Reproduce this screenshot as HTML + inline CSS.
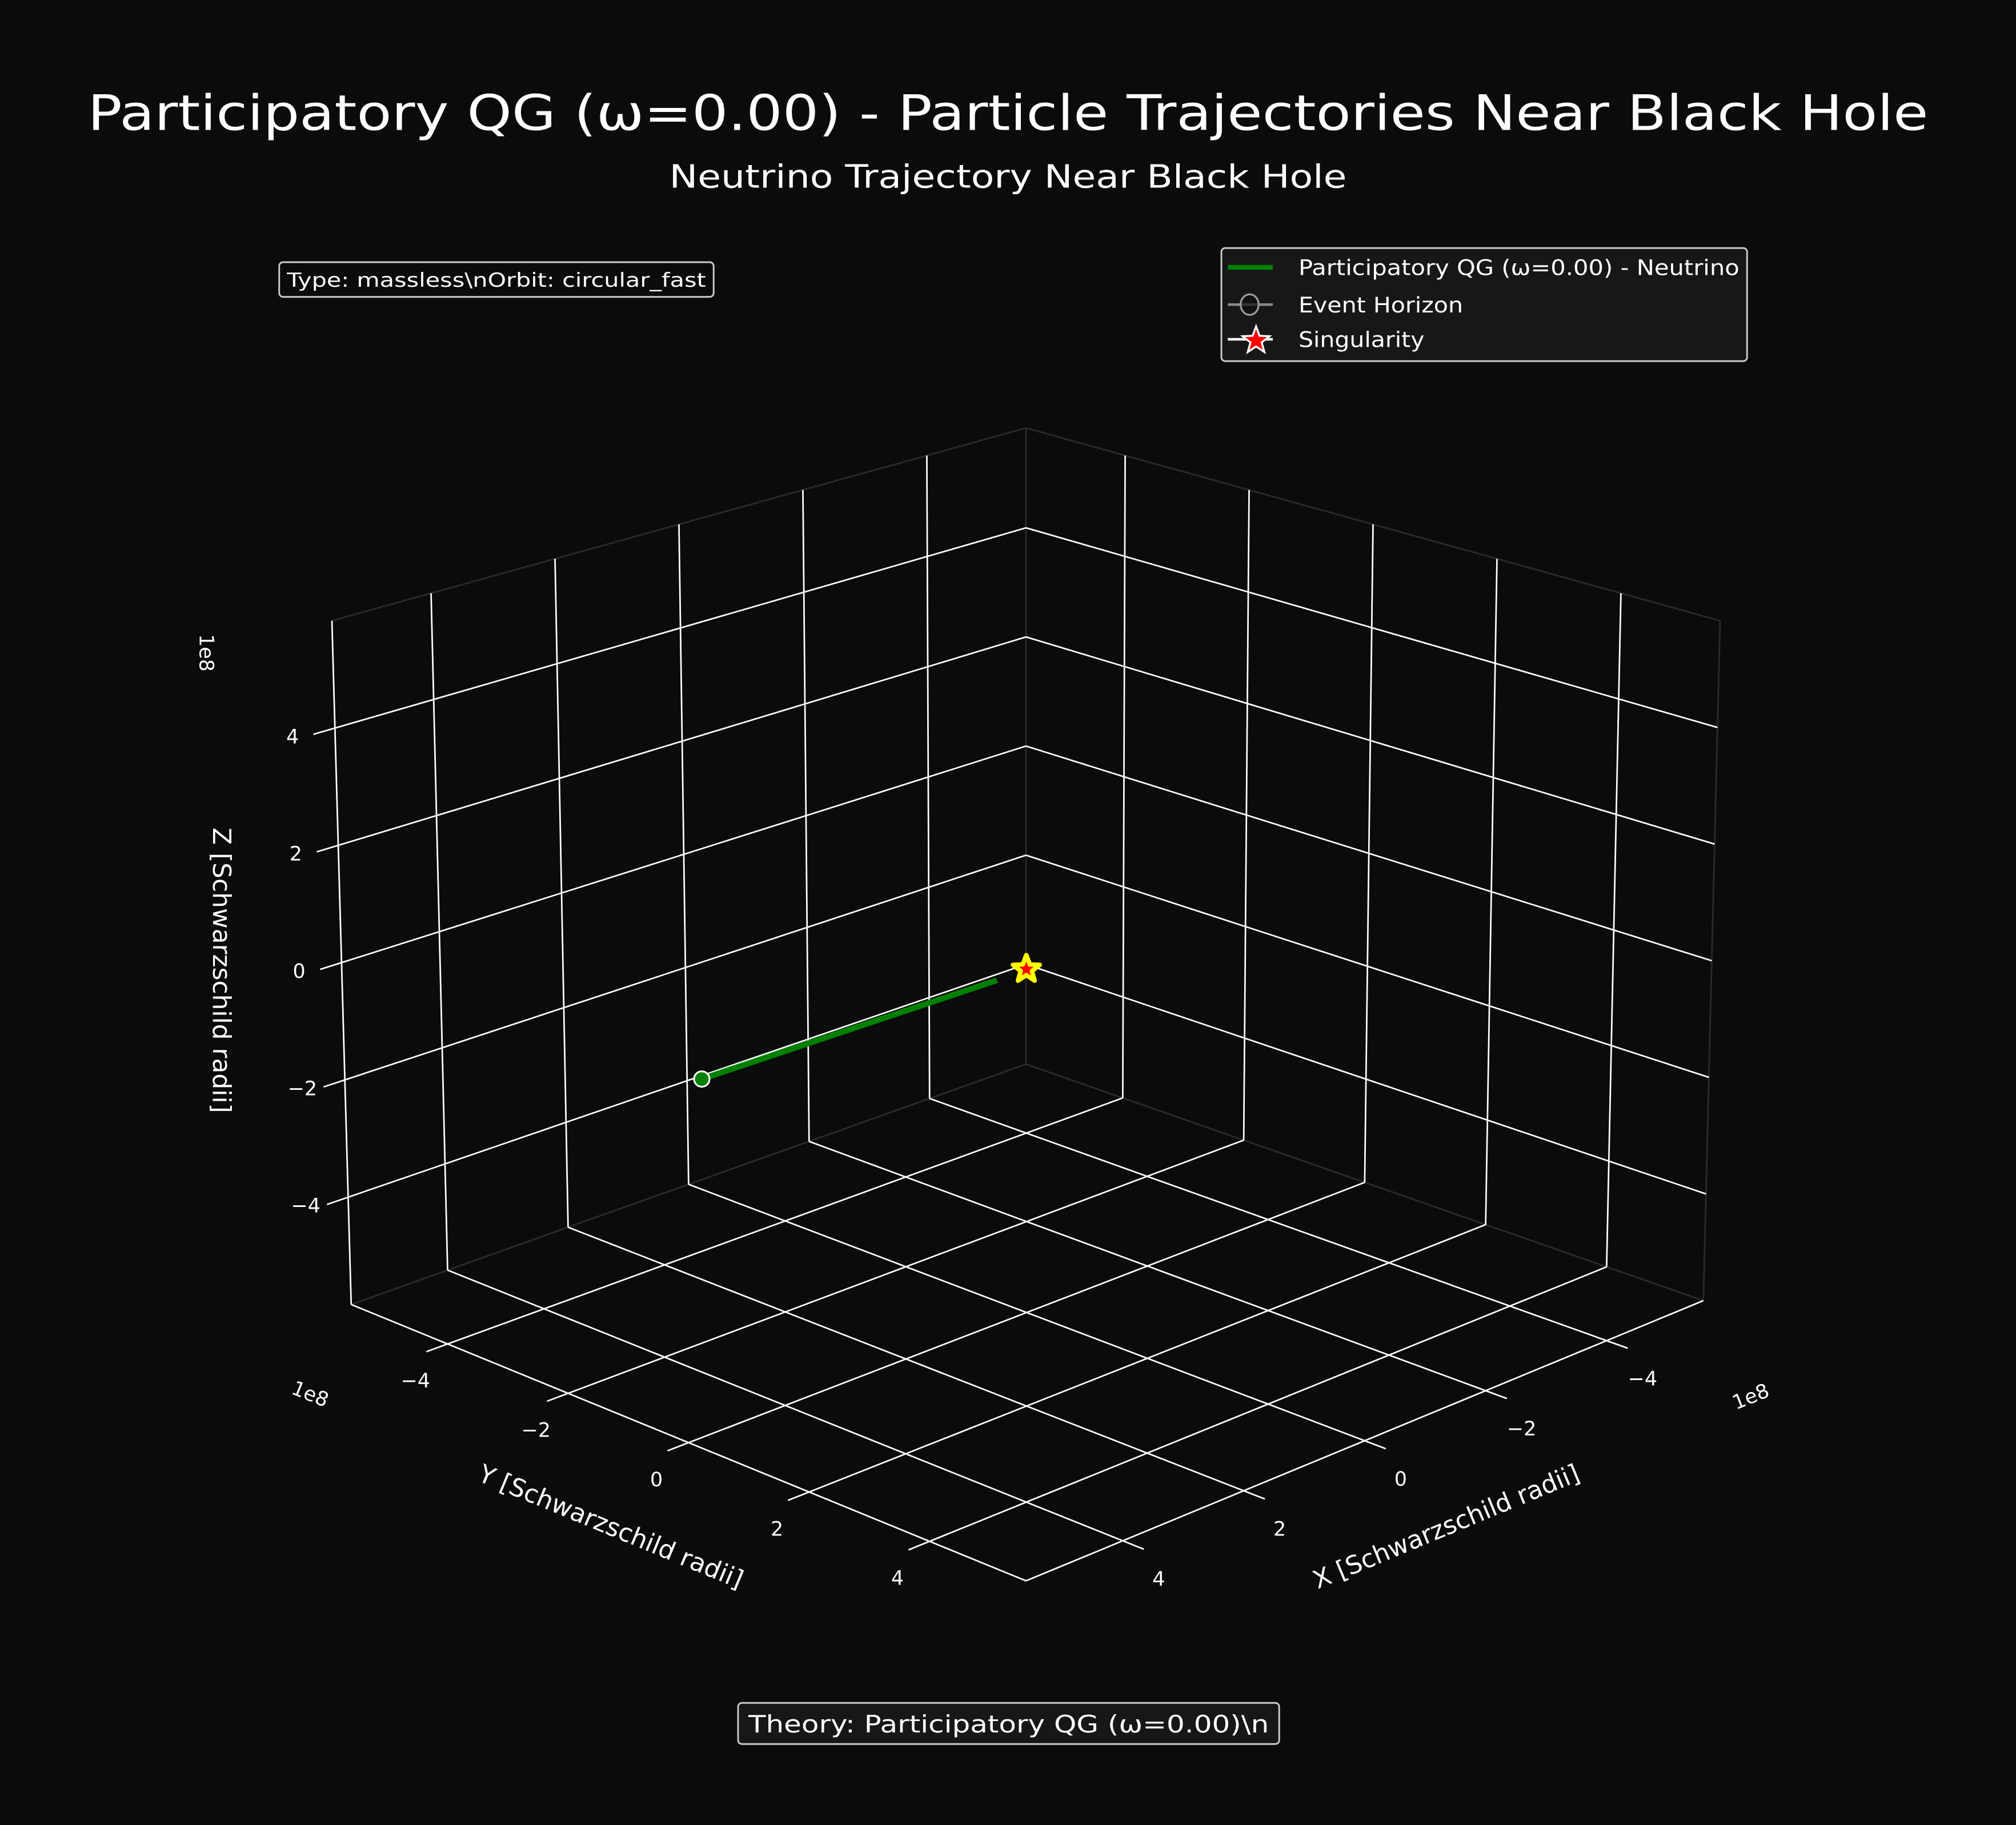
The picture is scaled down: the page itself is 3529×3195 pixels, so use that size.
<!DOCTYPE html>
<html><head><meta charset="utf-8"><style>
html,body{margin:0;padding:0;background:#0b0b0b;}
svg{display:block;}
text{font-family:"DejaVu Sans","Liberation Sans",sans-serif;fill:#fff;}
</style></head><body>
<svg id="chart" width="3529" height="3195" viewBox="0 0 1568 1420" xmlns="http://www.w3.org/2000/svg">
<rect x="0" y="0" width="1568" height="1420" fill="#0b0b0b"/>
<text x="784" y="101" font-size="38" text-anchor="middle" textLength="1432" lengthAdjust="spacingAndGlyphs">Participatory QG (ω=0.00) - Particle Trajectories Near Black Hole</text>
<text x="784" y="146" font-size="25" text-anchor="middle" textLength="527" lengthAdjust="spacingAndGlyphs">Neutrino Trajectory Near Black Hole</text>
<g id="axes"></g>
<g>
<rect x="217" y="204" width="338" height="27" rx="3" fill="#0b0b0b" stroke="#cccccc" stroke-width="1.3"/>
<text x="223" y="223" font-size="15" textLength="326" lengthAdjust="spacingAndGlyphs">Type: massless\nOrbit: circular_fast</text>
</g>
<g>
<rect x="950" y="193" width="409" height="88" rx="3" fill="#171717" stroke="#cccccc" stroke-width="1.3"/>
<line x1="955" y1="208" x2="990" y2="208" stroke="#008000" stroke-width="3.8"/>
<text x="1010" y="214" font-size="16.5" textLength="343" lengthAdjust="spacingAndGlyphs">Participatory QG (ω=0.00) - Neutrino</text>
<line x1="955" y1="237" x2="990" y2="237" stroke="#888" stroke-width="2"/>
<ellipse cx="972" cy="237" rx="7" ry="8" fill="#111" stroke="#999" stroke-width="1.5" fill-opacity="0.7"/>
<text x="1010" y="243" font-size="16.5" textLength="128" lengthAdjust="spacingAndGlyphs">Event Horizon</text>
<line x1="955" y1="264" x2="990" y2="264" stroke="#fff" stroke-width="2"/>
<polygon id="legstar" fill="#ff0000" stroke="#fff" stroke-width="1.5"/>
<text x="1010" y="270" font-size="16.5" textLength="98" lengthAdjust="spacingAndGlyphs">Singularity</text>
</g>
<g>
<rect x="574" y="1325" width="421" height="32" rx="3" fill="#171717" stroke="#cccccc" stroke-width="1.3"/>
<text x="582" y="1348" font-size="18.5" textLength="405" lengthAdjust="spacingAndGlyphs">Theory: Participatory QG (ω=0.00)\n</text>
</g>
</svg>
<script>
const ticks = [-4, -2, 0, 2, 4];
const tickLabels = ["\u22124", "\u22122", "0", "2", "4"];
const trajX = [4.83, 0.43];
const trajY = [-0.48, -0.05];
const trajZ = [-0.3, -0.03];
const singularity = [0, 0, 0];
const R = 5.6;
const RZ = 5.83;

const NS = "http://www.w3.org/2000/svg";
const g = document.getElementById('axes');
const C = {
  "000": [798, 828], "100": [273, 1015], "010": [1325, 1012], "110": [798, 1230],
  "001": [798, 333], "101": [258, 483], "011": [1338, 483], "111": [798, 657]
};
function lerp(p, q, t) { return [p[0] + (q[0] - p[0]) * t, p[1] + (q[1] - p[1]) * t]; }
function P(x, y, z) {
  const a = (x + R) / (2 * R), b = (y + R) / (2 * R), c = (z + RZ) / (2 * RZ);
  function face(k) {
    const s0 = lerp(C["00" + k], C["10" + k], a);
    const s1 = lerp(C["01" + k], C["11" + k], a);
    return lerp(s0, s1, b);
  }
  return lerp(face("0"), face("1"), c);
}
function line(p, q, color, w, name) {
  const l = document.createElementNS(NS, 'line');
  l.setAttribute('x1', p[0]); l.setAttribute('y1', p[1]);
  l.setAttribute('x2', q[0]); l.setAttribute('y2', q[1]);
  l.setAttribute('stroke', color); l.setAttribute('stroke-width', w);
  
  
  g.appendChild(l);
  return l;
}
function text(x, y, s, size, name, rot) {
  const t = document.createElementNS(NS, 'text');
  t.setAttribute('x', x); t.setAttribute('y', y);
  t.setAttribute('font-size', size);
  t.setAttribute('text-anchor', 'middle');
  t.setAttribute('dominant-baseline', 'central');
  if (rot) t.setAttribute('transform', 'rotate(' + rot + ' ' + x + ' ' + y + ')');
  t.textContent = s;
  
  
  g.appendChild(t);
}
const edge = "#2a2a2a", grid = "#ffffff", gw = 1.2, ext = 0.35;
line(P(-R,-R,-RZ), P(-R,-R,RZ), edge, 1.3, 'pane-edge-back');
line(P(-R,-R,RZ), P(R,-R,RZ), edge, 1.3, 'pane-edge-left-top');
line(P(-R,-R,RZ), P(-R,R,RZ), edge, 1.3, 'pane-edge-right-top');
line(P(-R,R,-RZ), P(-R,R,RZ), edge, 1.3, 'pane-edge-right');
line(P(-R,-R,-RZ), P(R,-R,-RZ), edge, 1.3, 'pane-edge-floor-left');
line(P(-R,-R,-RZ), P(-R,R,-RZ), edge, 1.3, 'pane-edge-floor-right');
ticks.forEach((t, i) => {
  line(P(t,-R,-RZ), P(t,R+ext,-RZ), grid, gw, 'floor-gridline-x');
  line(P(-R,t,-RZ), P(R+ext,t,-RZ), grid, gw, 'floor-gridline-y');
  line(P(t,-R,-RZ), P(t,-R,RZ), grid, gw, 'left-wall-gridline-x');
  line(P(-R,-R,t), P(R+ext,-R,t), grid, gw, 'left-wall-gridline-z');
  line(P(-R,t,-RZ), P(-R,t,RZ), grid, gw, 'right-wall-gridline-y');
  line(P(-R,-R,t), P(-R,R,t), grid, gw, 'right-wall-gridline-z');
});
line(P(R,-R,-RZ), P(R,-R,RZ), grid, 1.2, 'z-axis-line');
line(P(R,-R,-RZ), P(R,R,-RZ), grid, 1.2, 'y-axis-line');
line(P(R,R,-RZ), P(-R,R,-RZ), grid, 1.2, 'x-axis-line');
ticks.forEach((t, i) => {
  let p = P(R, t, -RZ);
  text(p[0] - 25, p[1] + 29, tickLabels[i], 15.5, 'y-tick-label');
  p = P(t, R, -RZ);
  text(p[0] + 28, p[1] + 30, tickLabels[i], 15.5, 'x-tick-label');
  p = P(R, -R, t);
  text(p[0] - 33, p[1] + 7, tickLabels[i], 15.5, 'z-tick-label');
});
text(475, 1188, 'Y [Schwarzschild radii]', 19.5, 'y-axis-title', 22.5);
text(1125, 1188, 'X [Schwarzschild radii]', 19.5, 'x-axis-title', -22.5);
text(172, 755, 'Z [Schwarzschild radii]', 19.5, 'z-axis-title', 90);
text(241, 1085, '1e8', 15.5, 'y-axis-offset', 22);
text(1362, 1087, '1e8', 15.5, 'x-axis-offset', -22);
text(160, 508, '1e8', 15.5, 'z-axis-offset', 90);
const pts = trajX.map((x, i) => P(x, trajY[i], trajZ[i]));
const pl = document.createElementNS(NS, 'polyline');
pl.setAttribute('points', pts.map(p => p.join(',')).join(' '));
pl.setAttribute('fill', 'none'); pl.setAttribute('stroke', '#008000'); pl.setAttribute('stroke-width', 4.5);


g.appendChild(pl);
const dot = document.createElementNS(NS, 'circle');
dot.setAttribute('cx', pts[0][0]); dot.setAttribute('cy', pts[0][1]); dot.setAttribute('r', 6);
dot.setAttribute('fill', '#008000'); dot.setAttribute('stroke', '#fff'); dot.setAttribute('stroke-width', 1.4);


g.appendChild(dot);
function starPts(cx, cy, ro, ri) {
  const a = [];
  for (let k = 0; k < 10; k++) {
    const r = k % 2 ? ri : ro, ang = -Math.PI / 2 + k * Math.PI / 5;
    a.push((cx + r * Math.cos(ang)).toFixed(2) + ',' + (cy + r * Math.sin(ang)).toFixed(2));
  }
  return a.join(' ');
}
const sp = P(singularity[0], singularity[1], singularity[2]);
const st = document.createElementNS(NS, 'polygon');
st.setAttribute('points', starPts(sp[0], sp[1] - 1, 11, 4.6));
st.setAttribute('fill', '#ff0000'); st.setAttribute('stroke', '#ffff00'); st.setAttribute('stroke-width', 3.5);
st.setAttribute('stroke-linejoin', 'round');


g.appendChild(st);
document.getElementById('legstar').setAttribute('points', starPts(977, 265, 11, 4.6));
</script>
</body></html>
